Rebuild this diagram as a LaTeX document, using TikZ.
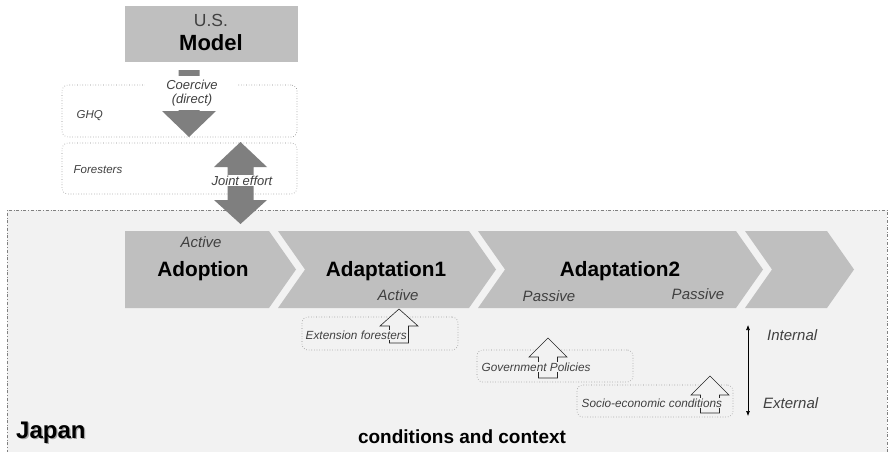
\documentclass[tikz,border=0pt]{standalone}
\usepackage{fontspec}
\setmainfont{Liberation Sans}
\usetikzlibrary{arrows.meta}
\definecolor{bg}{HTML}{F2F2F2}
\definecolor{chev}{HTML}{BFBFBF}
\definecolor{dark}{HTML}{7F7F7F}
\definecolor{txt}{HTML}{404040}
\begin{document}
\begin{tikzpicture}[x=1pt,y=-1pt,
  lbl/.style={font=\fontsize{11.8}{13}\selectfont\itshape, text=txt, inner sep=0.5pt},
  side/.style={font=\fontsize{11.5}{13}\selectfont\itshape, text=txt, inner sep=0.5pt},
  mid/.style={font=\fontsize{13}{15}\selectfont\itshape, text=txt, inner sep=0.5pt},
  state/.style={font=\fontsize{15}{17}\selectfont\itshape, text=txt, inner sep=0pt},
  big/.style={font=\fontsize{20.8}{23}\selectfont\bfseries, inner sep=0pt},
  dotbox/.style={draw=black!45, dotted, rounded corners=6pt, line width=0.6pt},
  hollow/.style={draw=black!85, line width=0.6pt, fill=bg, line join=miter},
  chevron/.style={fill=chev}]
\useasboundingbox (0,0) rectangle (888,452);
% Japan region
\fill[bg] (7,210) rectangle (887,460);
\draw[black!50, dash dot, line width=0.6pt] (7,460) -- (7,210) -- (887,210) -- (887,460);

% U.S. Model
\node[fill=chev, minimum width=173, minimum height=56, inner sep=0] (us) at (211,34) {};
\node[font=\fontsize{17.5}{19}\selectfont, text=txt, inner sep=0, anchor=base] (uslbl) at (211,27) {U.S.};
\node[font=\fontsize{22}{24}\selectfont\bfseries, inner sep=0, anchor=base] (model) at (211,51) {Model};

% GHQ and Foresters boxes
\node[dotbox, fill=white, minimum width=235, minimum height=52, inner sep=0] (ghq) at (179.5,111) {};
\node[dotbox, fill=white, minimum width=235, minimum height=51, inner sep=0] (for) at (179.5,168.5) {};
\node[side, anchor=base west] (ghqlbl) at (76,118) {GHQ};
\node[side, anchor=base west] (forlbl) at (73,173) {Foresters};

% coercive arrow
\fill[dark] (178.5,70) -- (199.5,70) -- (199.5,111) -- (216,111) -- (189,137) -- (162,111) -- (178.5,111) -- cycle;
\node[fill=white, minimum width=93, minimum height=34, inner sep=0] (coerbg) at (191.5,93) {};
\node[mid, anchor=base] (coer) at (192,89) {Coercive};
\node[mid, anchor=base] (direct) at (192,103) {(direct)};

% joint effort double arrow
\fill[dark] (240.5,142) -- (267,167) -- (253.5,167) -- (253.5,200) -- (267,200) -- (240.5,224) -- (214,200) -- (227.5,200) -- (227.5,167) -- (214,167) -- cycle;
\node[mid, fill=white, inner sep=1pt, anchor=base] (joint) at (242,185) {Joint effort};

% chevrons
\fill[chevron] (125,231) -- (269,231) -- (296,269.5) -- (269,308) -- (125,308) -- cycle;
\fill[chevron] (278,231) -- (469,231) -- (496,269.5) -- (469,308) -- (278,308) -- (305,269.5) -- cycle;
\fill[chevron] (478,231) -- (736,231) -- (763,269.5) -- (736,308) -- (478,308) -- (505,269.5) -- cycle;
\fill[chevron] (745,231) -- (827,231) -- (854,269.5) -- (827,308) -- (745,308) -- (772,269.5) -- cycle;

\node[state, anchor=base] (act1) at (201,247) {Active};
\node[big, anchor=base] (adop) at (203,276) {Adoption};
\node[big, anchor=base] (ad1) at (386,276) {Adaptation1};
\node[state, anchor=base] (act2) at (398,300) {Active};
\node[big, anchor=base] (ad2) at (620,276) {Adaptation2};
\node[state, anchor=base] (pas1) at (549,301) {Passive};
\node[state, anchor=base] (pas2) at (698,299) {Passive};

% condition boxes
\node[dotbox, minimum width=156, minimum height=33, inner sep=0] (ext) at (380,333.5) {};
\node[dotbox, minimum width=156, minimum height=32, inner sep=0] (gov) at (555,366) {};
\node[dotbox, minimum width=156, minimum height=32, inner sep=0] (soc) at (655,401) {};

% hollow arrows
\draw[hollow] (399,309) -- (418,326) -- (408.5,326) -- (408.5,343) -- (389.5,343) -- (389.5,326) -- (380,326) -- cycle;
\draw[hollow] (548,338) -- (567,357) -- (557.5,357) -- (557.5,378) -- (538.5,378) -- (538.5,357) -- (529,357) -- cycle;
\draw[hollow] (710,376) -- (729,395) -- (719.5,395) -- (719.5,413) -- (700.5,413) -- (700.5,395) -- (691,395) -- cycle;

\node[lbl, fill=bg, anchor=base west] (extlbl) at (305,339) {Extension foresters};
\node[lbl, fill=bg, anchor=base west] (govlbl) at (481,371) {Government Policies};
\node[lbl, fill=bg, anchor=base west] (soclbl) at (581,407) {Socio-economic conditions};

% internal / external
\coordinate (vt) at (748,325);
\coordinate (vb) at (748,416);
\draw[{Latex[length=5pt,width=4pt]}-{Latex[length=5pt,width=4pt]}, line width=0.6pt] (vt) -- (vb);
\node[state, anchor=base west] (int) at (767,340) {Internal};
\node[state, anchor=base west] (ext2) at (763,408) {External};

% bottom labels
\node[font=\fontsize{24}{26}\selectfont\bfseries, text=black!35, anchor=base west, inner sep=0] at (17.3,439.3) {Japan};
\node[font=\fontsize{24}{26}\selectfont\bfseries, anchor=base west, inner sep=0] (japan) at (16,438) {Japan};
\node[font=\fontsize{19}{21}\selectfont\bfseries, inner sep=0, anchor=base] (cond) at (462,443) {conditions and context};
\end{tikzpicture}
\end{document}
